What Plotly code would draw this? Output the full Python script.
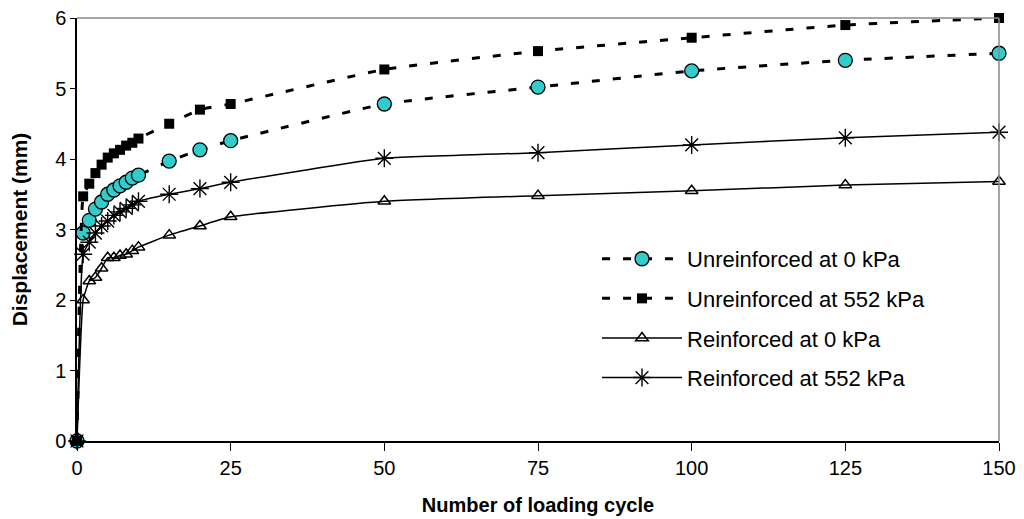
import plotly.graph_objects as go

cycles = [0, 1, 2, 3, 4, 5, 6, 7, 8, 9, 10, 15, 20, 25, 50, 75, 100, 125, 150]
unreinf_0 = [0, 2.95, 3.13, 3.29, 3.39, 3.50, 3.56, 3.62, 3.67, 3.73, 3.77, 3.97, 4.13, 4.26, 4.78, 5.02, 5.25, 5.40, 5.50]
unreinf_552 = [0, 3.47, 3.65, 3.80, 3.92, 4.02, 4.08, 4.13, 4.19, 4.23, 4.29, 4.50, 4.70, 4.78, 5.27, 5.53, 5.72, 5.90, 6.00]
reinf_0 = [0, 2.00, 2.27, 2.32, 2.45, 2.60, 2.60, 2.63, 2.65, 2.70, 2.75, 2.92, 3.05, 3.18, 3.40, 3.48, 3.55, 3.63, 3.68]
reinf_552 = [0, 2.65, 2.82, 2.95, 3.05, 3.12, 3.20, 3.25, 3.30, 3.35, 3.40, 3.50, 3.58, 3.67, 4.01, 4.09, 4.20, 4.30, 4.38]

names = ["Unreinforced at 0 kPa", "Unreinforced at 552 kPa", "Reinforced at 0 kPa", "Reinforced at 552 kPa"]

fig = go.Figure()
fig.add_trace(go.Scatter(x=cycles, y=unreinf_0, name=names[0], legendgroup="a", mode="lines+markers",
                         line=dict(color="black", width=3, dash="8px,13px", shape="spline", smoothing=0.4),
                         marker=dict(symbol="circle", size=14, color="#33CCCC", line=dict(color="black", width=1.3))))
fig.add_trace(go.Scatter(x=cycles, y=unreinf_552, name=names[1], legendgroup="b", mode="lines+markers",
                         line=dict(color="black", width=3, dash="8px,13px", shape="spline", smoothing=0.4),
                         marker=dict(symbol="square", size=10, color="black")))
fig.add_trace(go.Scatter(x=cycles, y=reinf_0, name=names[2], legendgroup="c", mode="lines+markers",
                         line=dict(color="black", width=1.5, shape="spline", smoothing=0.4),
                         marker=dict(symbol="triangle-up-open", size=11, color="black", line=dict(width=1.5))))
fig.add_trace(go.Scatter(x=cycles, y=reinf_552, name=names[3], legendgroup="d", mode="lines+markers",
                         line=dict(color="black", width=1.5, shape="spline", smoothing=0.4),
                         marker=dict(symbol="asterisk-open", size=15, color="black", line=dict(width=1.4))))

# gray top and right border
fig.add_shape(type="line", xref="paper", yref="paper", x0=0, x1=1, y0=1, y1=1, line=dict(color="#888888", width=1.5))
fig.add_shape(type="line", xref="paper", yref="paper", x0=1, x1=1, y0=0, y1=1, line=dict(color="#888888", width=1.5))

fig.update_layout(
    width=1024, height=519,
    margin=dict(l=77, r=25, t=18, b=78, autoexpand=False),
    paper_bgcolor="white", plot_bgcolor="white",
    font=dict(family="Arial, Liberation Sans, sans-serif", size=20, color="black"),
    legend=dict(x=0.564, y=0.48, xanchor="left", yanchor="top", bgcolor="rgba(0,0,0,0)",
                font=dict(size=22), itemwidth=80, tracegroupgap=8, traceorder="grouped"),
    xaxis=dict(range=[0, 150], tickvals=[0, 25, 50, 75, 100, 125, 150], showgrid=False, zeroline=False,
               showline=True, linecolor="black", linewidth=1.5, ticks="outside", ticklen=8, tickcolor="black",
               tickfont=dict(size=20), automargin=False,
               title=dict(text="<b>Number of loading cycle</b>", font=dict(size=20), standoff=20)),
    yaxis=dict(range=[0, 6], tickvals=[0, 1, 2, 3, 4, 5, 6], showgrid=False, zeroline=False,
               showline=True, linecolor="black", linewidth=1.5, ticks="outside", ticklen=5, tickcolor="black",
               tickfont=dict(size=20), automargin=False,
               title=dict(text="<b>Displacement (mm)</b>", font=dict(size=21), standoff=22)),
)
fig.update_traces(cliponaxis=False)

fig.write_html("out.html")
